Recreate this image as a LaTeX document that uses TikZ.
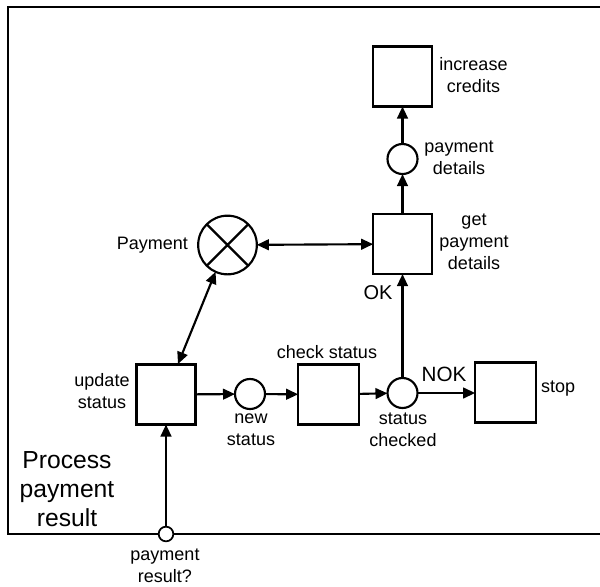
\documentclass[tikz,border=0pt]{standalone}
\usepackage{fontspec}
\setmainfont{Liberation Sans}
\usetikzlibrary{arrows.meta}
\begin{document}
\begin{tikzpicture}[x=0.75pt,y=-0.75pt,
  every node/.style={inner sep=0pt, outer sep=0pt},
  trans/.style={draw, line width=1.8pt, minimum width=44pt, minimum height=45pt},
  place/.style={circle, draw, line width=1.6pt, minimum size=22.5pt},
  lbl/.style={font=\fontsize{13.5}{16.5}\selectfont, align=center},
  big/.style={font=\fontsize{18.5}{21.75}\selectfont, align=center},
  arr/.style={line width=1.6pt, -{Triangle[length=9pt,width=8pt]}},
  darr/.style={line width=1.6pt, {Triangle[length=9pt,width=8pt]}-{Triangle[length=9pt,width=8pt]}},
  frame/.style={line width=1.8pt}]
\useasboundingbox (0,0) rectangle (600,586);
% frame (open to the right)
\coordinate (fTR) at (600,7);
\coordinate (fTL) at (8,7);
\coordinate (fBL) at (8,534);
\coordinate (fBR) at (600,534);
\draw[frame] (fTR) -- (fTL) -- (fBL) -- (fBR);
% nodes
\node[trans] (inc) at (402.5,76.5) {};
\node[place] (pd) at (402.5,159) {};
\node[trans] (gpd) at (402.5,244) {};
\node[place, minimum size=44pt] (pay) at (227.5,245) {};
\draw[line width=1.6pt] (pay.45) -- (pay.225) (pay.135) -- (pay.-45);
\node[trans] (us) at (166,394.5) {};
\node[place] (ns) at (250,394) {};
\node[trans, minimum width=45.5pt] (cs) at (328.5,394.5) {};
\node[place] (sc) at (402.5,393) {};
\node[trans, minimum width=45.5pt] (stop) at (505.5,392.5) {};
\node[circle, draw, fill=white, line width=1.3pt, minimum size=11pt] (pr) at (166,534) {};
% labels
\node[lbl] (incL) at (473.5,75) {increase\\credits};
\node[lbl] (pdL) at (459,158) {payment\\details};
\node[lbl] (gpdL) at (474,242) {get\\payment\\details};
\node[lbl, anchor=east] (payL) at (188,245) {Payment};
\node[font=\fontsize{15}{18}\selectfont] (okL) at (378,293) {OK};
\node[lbl] (usL) at (102,391) {update\\status};
\node[lbl] (nsL) at (251,430) {new\\status};
\node[lbl] (csL) at (327,352) {check status};
\node[lbl] (scL) at (403,430) {status\\checked};
\node[lbl, anchor=west] (stopL) at (541,389) {stop};
\node[font=\fontsize{15.5}{18}\selectfont] (nokL) at (444,374) {NOK};
\node[lbl] (prL) at (165,566) {payment\\result?};
\node[big] (procL) at (67,489) {Process\\payment\\result};
% connectors
\coordinate (usT) at (178,364);
\draw[darr] (usT) -- (pay.-114);
\draw[darr] (pay) -- (gpd);
\draw[arr] (gpd) -- (pd);
\draw[arr] (pd) -- (inc);
\draw[arr] (us) -- (ns);
\draw[arr] (ns) -- (cs);
\draw[arr] (cs) -- (sc);
\draw[arr] (sc) -- (stop.west |- sc);
\draw[arr] (sc) -- (gpd);
\draw[arr] (pr) -- (us);
\end{tikzpicture}
\end{document}
